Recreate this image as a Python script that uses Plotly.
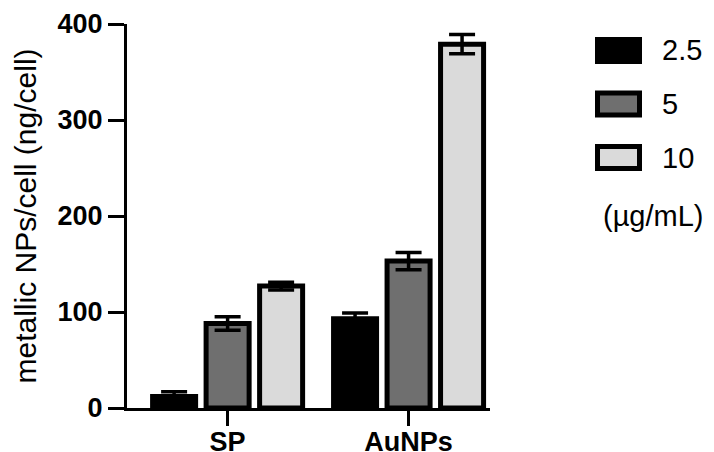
import plotly.graph_objects as go

# ---- data ----
categories = ["SP", "AuNPs"]
concentrations = ["2.5", "5", "10"]
means_2_5 = [12, 93]
means_5 = [88, 153]
means_10 = [127, 379]
err_2_5 = [5, 6]
err_5 = [7, 9]
err_10 = [4, 10]
unit_label = "(µg/mL)"
y_title = "metallic NPs/cell (ng/cell)"
y_ticks = [0, 100, 200, 300, 400]

colors = ["#000000", "#6f6f6f", "#dadada"]
series_means = [means_2_5, means_5, means_10]
series_errs = [err_2_5, err_5, err_10]

W, H = 714, 452
L, R, T, B = 127, 224, 24, 44
PW, PH = W - L - R, H - T - B

fig = go.Figure()
for name, m, e, c in zip(concentrations, series_means, series_errs, colors):
    fig.add_trace(go.Bar(
        x=categories, y=m, name=name,
        marker=dict(color=c, line=dict(color="black", width=5)),
        error_y=dict(type="data", array=e, visible=True, color="black",
                     thickness=3.5, width=13),
        showlegend=False,
    ))

def px_x(px):
    return (px - L) / PW

def px_y(py):
    return (H - B - py) / PH

shapes = []
annotations = []
font_reg = dict(family="Liberation Sans, Arial, sans-serif", size=29, color="black")
for i, (name, c) in enumerate(zip(concentrations, colors)):
    top = 39.5 + i * 53.5
    shapes.append(dict(type="rect", xref="paper", yref="paper",
                       x0=px_x(597.5), x1=px_x(639.5),
                       y0=px_y(top + 22), y1=px_y(top),
                       fillcolor=c, line=dict(color="black", width=5)))
    annotations.append(dict(xref="paper", yref="paper", x=px_x(660), y=px_y(top + 11),
                            text=name, showarrow=False, xanchor="left", yanchor="middle",
                            font=font_reg))
annotations.append(dict(xref="paper", yref="paper", x=px_x(601), y=px_y(216),
                        text=unit_label, showarrow=False, xanchor="left", yanchor="middle",
                        font=font_reg))

fig.update_layout(
    width=W, height=H,
    margin=dict(l=L, r=R, t=T, b=B, pad=0),
    paper_bgcolor="white", plot_bgcolor="white",
    barmode="group", bargap=0.113, bargroupgap=0.196,
    shapes=shapes, annotations=annotations,
    xaxis=dict(
        range=[-0.556, 1.45], showline=True, linecolor="black", linewidth=3,
        ticks="outside", ticklen=15, tickwidth=3, tickcolor="black",
        tickfont=dict(family="Liberation Sans, Arial, sans-serif", size=27,
                      color="black", weight="bold"),
        ticklabelstandoff=-7,
        showgrid=False, zeroline=False, automargin=False,
    ),
    yaxis=dict(
        range=[0, 400], tickvals=y_ticks, showline=True, linecolor="black", linewidth=3,
        ticks="outside", ticklen=16, tickwidth=3, tickcolor="black",
        tickfont=dict(family="Liberation Sans, Arial, sans-serif", size=27,
                      color="black", weight="bold"),
        showgrid=False, zeroline=False, automargin=False,
        title=dict(text=y_title,
                   font=dict(family="Liberation Sans, Arial, sans-serif", size=30, color="black"),
                   standoff=13),
    ),
)

fig.write_html("out.html")
